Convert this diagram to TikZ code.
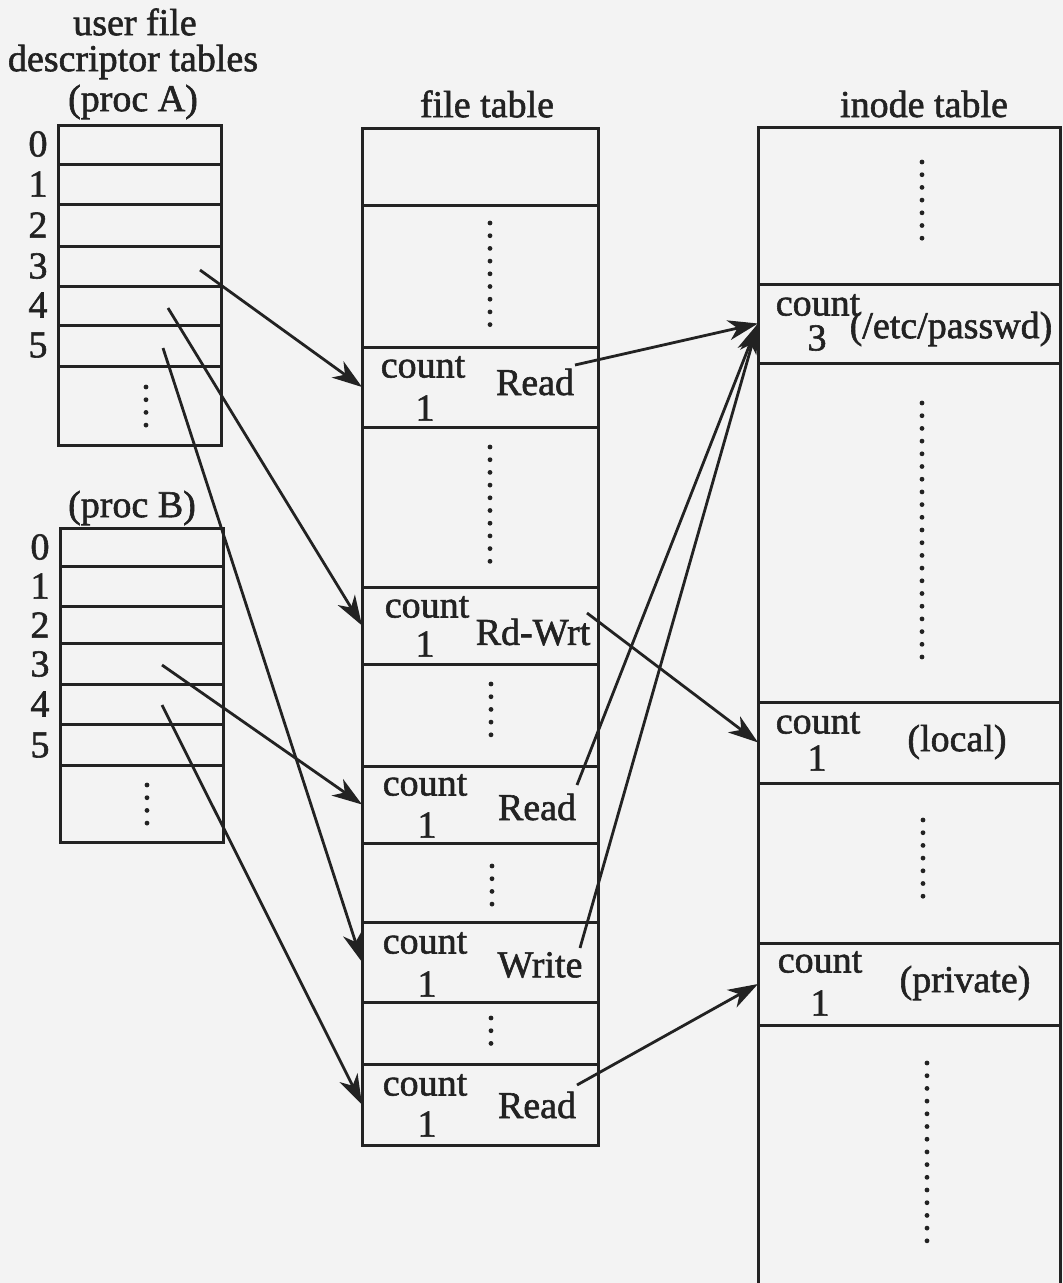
\documentclass[tikz,border=0pt]{standalone}
\usepackage{fontspec}
\setmainfont{Liberation Serif}[FakeBold=1.5]
\usetikzlibrary{arrows.meta}
\definecolor{ink}{HTML}{222222}
\definecolor{bg}{HTML}{F3F3F3}
\begin{document}
\begin{tikzpicture}[x=1pt,y=-1pt,
  cell/.style={draw=ink, line width=3pt, inner sep=0pt, outer sep=0pt, anchor=north west},
  lbl/.style={font=\fontsize{38}{40}\selectfont, text=ink, inner sep=0pt},
  dotcol/.style={draw=ink, line width=4.8pt, line cap=round, dash pattern=on 0pt off 12.7pt},
  ptr/.style={draw=ink, line width=2.8pt, -{Stealth[length=30pt,width=20pt,inset=9pt]}}
]
\fill[bg] (0,0) rectangle (1063,1283);
\useasboundingbox (0,0) rectangle (1063,1283);

% ---------- titles ----------
\node[lbl] (tUser) at (135,22) {user file};
\node[lbl] (tDesc) at (133,62) {descriptor tables};
\node[lbl] (tProcA) at (133,102) {(proc A)};
\node[lbl] (tProcB) at (132,508) {(proc B)};
\node[lbl] (tFile) at (487,104) {file table};
\node[lbl] (tInode) at (924,104) {inode table};

% ---------- proc A ----------
\node[cell, minimum width=163pt, minimum height=39pt] (a0) at (58,125) {};
\node[cell, minimum width=163pt, minimum height=40pt] (a1) at (58,164) {};
\node[cell, minimum width=163pt, minimum height=42pt] (a2) at (58,204) {};
\node[cell, minimum width=163pt, minimum height=40pt] (a3) at (58,246) {};
\node[cell, minimum width=163pt, minimum height=39pt] (a4) at (58,286) {};
\node[cell, minimum width=163pt, minimum height=41pt] (a5) at (58,325) {};
\node[cell, minimum width=163pt, minimum height=79pt] (a6) at (58,366) {};
\draw[dotcol] (146,387) -- (146,428);
\node[lbl] (na0) at (38,144) {0};
\node[lbl] (na1) at (38,184) {1};
\node[lbl] (na2) at (38,225) {2};
\node[lbl] (na3) at (38,266) {3};
\node[lbl] (na4) at (38,305) {4};
\node[lbl] (na5) at (38,345) {5};

% ---------- proc B ----------
\node[cell, minimum width=163pt, minimum height=38pt] (b0) at (60,528) {};
\node[cell, minimum width=163pt, minimum height=40pt] (b1) at (60,566) {};
\node[cell, minimum width=163pt, minimum height=37pt] (b2) at (60,606) {};
\node[cell, minimum width=163pt, minimum height=41pt] (b3) at (60,643) {};
\node[cell, minimum width=163pt, minimum height=40pt] (b4) at (60,684) {};
\node[cell, minimum width=163pt, minimum height=41pt] (b5) at (60,724) {};
\node[cell, minimum width=163pt, minimum height=77pt] (b6) at (60,765) {};
\draw[dotcol] (147,785) -- (147,824);
\node[lbl] (nb0) at (40,547) {0};
\node[lbl] (nb1) at (40,586) {1};
\node[lbl] (nb2) at (40,625) {2};
\node[lbl] (nb3) at (40,664) {3};
\node[lbl] (nb4) at (40,704) {4};
\node[lbl] (nb5) at (40,745) {5};

% ---------- file table ----------
\node[cell, minimum width=236pt, minimum height=77pt]  (f0)  at (362,128) {};
\node[cell, minimum width=236pt, minimum height=142pt] (f1)  at (362,205) {};
\node[cell, minimum width=236pt, minimum height=80pt]  (fR1) at (362,347) {};
\node[cell, minimum width=236pt, minimum height=160pt] (f3)  at (362,427) {};
\node[cell, minimum width=236pt, minimum height=77pt]  (fRW) at (362,587) {};
\node[cell, minimum width=236pt, minimum height=102pt] (f5)  at (362,664) {};
\node[cell, minimum width=236pt, minimum height=77pt]  (fR2) at (362,766) {};
\node[cell, minimum width=236pt, minimum height=79pt]  (f7)  at (362,843) {};
\node[cell, minimum width=236pt, minimum height=80pt]  (fW)  at (362,922) {};
\node[cell, minimum width=236pt, minimum height=62pt]  (f9)  at (362,1002) {};
\node[cell, minimum width=236pt, minimum height=81pt]  (fR3) at (362,1064) {};
\draw[dotcol] (490,223) -- (490,328);
\draw[dotcol] (490,447) -- (490,568);
\draw[dotcol] (491,684) -- (491,746);
\draw[dotcol] (492,866) -- (492,906);
\draw[dotcol] (491,1018) -- (491,1044);

\node[lbl] (cR1) at (423,367) {count};
\node[lbl] (vR1) at (425,408) {1};
\node[lbl] (mR1) at (535,382) {Read};
\node[lbl] (cRW) at (427,607) {count};
\node[lbl] (vRW) at (425,644) {1};
\node[lbl] (mRW) at (533,632) {Rd-Wrt};
\node[lbl] (cR2) at (425,785) {count};
\node[lbl] (vR2) at (427,825) {1};
\node[lbl] (mR2) at (537,807) {Read};
\node[lbl] (cW) at (425,943) {count};
\node[lbl] (vW) at (427,984) {1};
\node[lbl] (mW) at (540,965) {Write};
\node[lbl] (cR3) at (425,1085) {count};
\node[lbl] (vR3) at (427,1124) {1};
\node[lbl] (mR3) at (537,1105) {Read};

% ---------- inode table ----------
\node[cell, minimum width=302pt, minimum height=157pt] (i0) at (758,127) {};
\node[cell, minimum width=302pt, minimum height=79pt]  (iP) at (758,284) {};
\node[cell, minimum width=302pt, minimum height=339pt] (i2) at (758,363) {};
\node[cell, minimum width=302pt, minimum height=81pt]  (iL) at (758,702) {};
\node[cell, minimum width=302pt, minimum height=160pt] (i4) at (758,783) {};
\node[cell, minimum width=302pt, minimum height=82pt]  (iV) at (758,943) {};
\node[cell, draw=none, minimum width=302pt, minimum height=258pt] (i6) at (758,1025) {};
\draw[draw=ink, line width=3pt] (i6.north west) -- (i6.south west)
                                (i6.north east) -- (i6.south east);
\draw[dotcol] (922,162) -- (922,244);
\draw[dotcol] (922,403) -- (922,661);
\draw[dotcol] (923,820) -- (923,903);
\draw[dotcol] (927,1063) -- (927,1246);

\node[lbl] (cP) at (818,305) {count};
\node[lbl] (vP) at (817,338) {3};
\node[lbl] (mP) at (951,329) {(/etc/passwd)};
\node[lbl] (cL) at (818,723) {count};
\node[lbl] (vL) at (817,758) {1};
\node[lbl] (mL) at (957,742) {(local)};
\node[lbl] (cV) at (820,962) {count};
\node[lbl] (vV) at (820,1003) {1};
\node[lbl] (mV) at (965,983) {(private)};

% ---------- pointer start points ----------
\coordinate (sA3) at (200,270);
\coordinate (sA4) at (168,308);
\coordinate (sA5) at (163,348);
\coordinate (sB3) at (162,665);
\coordinate (sB4) at (162,705);
\coordinate (sR1) at (575,365);
\coordinate (sRW) at (587,613);
\coordinate (sR2) at (577,785);
\coordinate (sW)  at (580,948);
\coordinate (sR3) at (577,1085);

% ---------- pointers ----------
\draw[ptr] (sA3) -- (fR1.west);
\draw[ptr] (sA4) -- (fRW.west);
\draw[ptr] (sA5) -- (fW.west);
\draw[ptr] (sB3) -- (fR2.west);
\draw[ptr] (sB4) -- (fR3.west);
\draw[ptr] (sR1) -- (iP.west);
\draw[ptr] (sR2) -- (iP.west);
\draw[ptr] (sW)  -- (iP.west);
\draw[ptr] (sRW) -- (iL.west);
\draw[ptr] (sR3) -- (iV.west);
\end{tikzpicture}
\end{document}
